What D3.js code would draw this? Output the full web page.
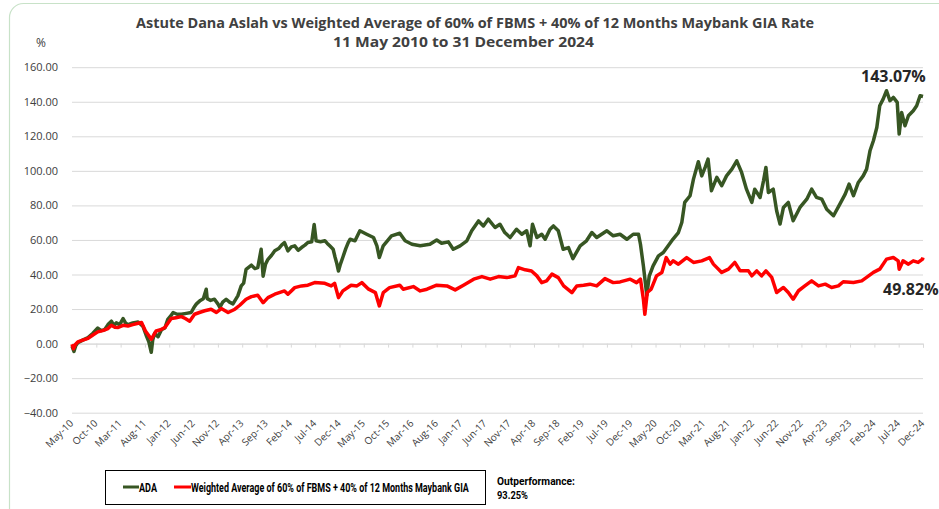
<!DOCTYPE html>
<html><head><meta charset="utf-8">
<script src="https://cdn.jsdelivr.net/npm/d3@7"></script>
<style>
html,body{margin:0;padding:0;background:#fff;}
svg{display:block;}
</style></head>
<body><svg id="chart" width="939" height="509"></svg>
<script>
// ---- data (x = months elapsed since 11 May 2010) ----
const tickLabels = ["May-10","Oct-10","Mar-11","Aug-11","Jan-12","Jun-12","Nov-12","Apr-13","Sep-13","Feb-14","Jul-14","Dec-14","May-15","Oct-15","Mar-16","Aug-16","Jan-17","Jun-17","Nov-17","Apr-18","Sep-18","Feb-19","Jul-19","Dec-19","May-20","Oct-20","Mar-21","Aug-21","Jan-22","Jun-22","Nov-22","Apr-23","Sep-23","Feb-24","Jul-24","Dec-24"];
const yTicks = [-40,-20,0,20,40,60,80,100,120,140,160];

const adaMonths = [0,0.4,0.8,1.2,2.2,3.3,4.3,5.3,6.0,6.7,7.4,8.1,8.6,9.1,9.8,10.5,11.0,11.5,12.5,13.6,14.6,15.3,15.8,16.3,16.6,17.0,17.7,18.4,19.1,19.7,20.3,20.8,21.6,22.5,23.5,24.5,25.1,25.6,26.4,27.0,27.6,27.8,28.5,29.3,30.0,30.4,31.0,31.7,32.4,33.1,34.1,34.8,35.3,35.8,36.9,37.6,38.2,38.9,39.3,39.8,40.3,41.0,41.7,42.5,43.1,43.7,44.4,45.1,45.8,46.5,47.2,47.9,48.5,49.3,49.8,50.2,51.1,52.0,52.5,53.0,53.7,54.1,54.4,54.8,55.2,55.7,56.3,56.8,57.2,58.2,59.2,60.6,62.0,62.7,63.2,64.0,65.7,67.4,68.5,69.9,71.6,73.6,75.0,76.0,77.4,78.4,79.8,81.2,82.2,83.6,84.6,85.6,87.0,88.0,89.0,90.1,91.4,92.5,93.5,94.2,94.7,95.6,96.6,97.3,98.3,99.0,100.0,101.0,102.1,103.0,104.5,105.8,106.9,107.9,110.0,111.3,112.7,114.1,115.4,116.5,116.9,117.5,118.2,118.7,119.5,120.6,121.6,122.6,123.6,124.7,125.4,126.0,127.1,127.8,128.8,129.5,130.2,130.8,131.5,132.6,133.6,134.6,135.7,136.7,137.7,138.7,139.8,140.4,141.5,142.2,142.7,143.2,144.2,144.9,145.6,146.3,147.3,148.3,149.7,151.1,152.1,153.1,154.2,155.2,156.6,157.9,159.0,159.8,160.7,161.7,162.7,163.4,164.1,164.8,165.5,166.1,166.8,167.5,168.2,168.9,169.7,170.1,170.6,171.3,172.0,173.0,173.7,174.4,175];
const adaValues = [-1.5,-4.5,-1,0.5,2,3.5,6,9,7.5,8,11,13,10.5,12,11,14.5,12,11,12,12.5,10,4.5,1,-5,2,6,4,8,9,14,16,18,17,17,17.5,18,21,23,25,26,31.5,26,25,25.7,23,21,24,25.7,24,23,27.6,33.4,35,43,45.4,43.5,44,54.6,39,46,48.8,51,53.7,55,57,58.5,53.7,56,56.6,54,55.6,57,58.5,59,69,59.5,59,59.5,58,56.6,54.6,50,47,42,46,50,55,58.5,60.4,59.5,65.3,63.3,61.4,56.6,49.8,56.6,62.4,63.9,59.5,57.5,56.6,57.5,60,58.1,58.9,54.6,56.6,59.5,65.3,71,68.1,72,67.2,69.1,64.3,61.4,66.2,63.3,65.3,56.6,69.1,61.4,63.3,60.4,66.2,68.1,65.3,54.6,55.6,49.2,56.6,59.5,64.3,61.4,65.3,62.4,63.3,60.4,63.3,63.3,57.5,45,28,39,45,50.8,52.7,56.6,60.5,64.3,70.1,81.7,85.6,95.2,105.3,97.1,102,106.8,88.5,96.2,91.4,97.1,101,105.8,99.1,89.4,81.7,89.4,84.6,94.2,102,87.5,89.4,76.9,69.2,78.8,81.7,71.1,78.8,83.6,89.4,84.6,83.6,77.8,74,80.7,86.5,92.3,85.6,93.3,97.1,101,111.6,117.4,125.1,137.7,141.5,146.4,140.6,142.5,139.6,121.3,133.8,126.1,131.9,134.8,137.7,143.5,143.07];

const benchMonths = [0,0.3,0.7,1.2,2.2,3.3,4.3,5.3,6.3,7.4,8.1,8.8,9.5,10.5,11.5,12.5,13.6,14.3,15.1,15.7,16.3,17.3,18.2,19.1,20.4,21.4,22.5,23.3,24.2,25.2,26.2,27.3,28.6,29.7,30.7,32.1,33.5,34.5,35.8,36.9,38.2,39.3,40.3,41.7,43.7,44.4,45.8,47.2,48.5,49.9,52.0,53.3,54.0,54.8,55.7,57.4,58.6,59.6,61.0,62.4,63.2,64.0,65.3,67.4,68.1,70.2,71.6,73.0,75.0,77.1,78.8,80.5,82.6,84.3,86.0,87.7,89.4,91.1,91.8,93.2,94.5,95.6,96.6,97.6,98.7,100.0,101.1,102.8,103.8,105.2,106.5,107.9,109.6,111.3,112.7,114.8,116.1,116.9,117.5,117.8,118.3,119.1,120.2,121.3,122.2,123.0,123.6,124.7,126.4,127.8,129.5,131.1,131.9,133.6,135.0,136.3,137.4,139.1,139.8,140.8,141.8,142.7,143.9,144.9,146.3,147.3,148.3,149.4,150.7,152.1,153.5,154.9,156.2,157.6,158.6,160.7,162.4,163.4,164.8,166.1,167.5,168.9,169.9,170.1,170.9,172.0,173.0,174.0,174.9,175];
const benchValues = [-0.4,-3,-0.5,1,2,3,5,6.8,7.5,8.7,10.6,9.5,9.3,10.6,10.2,11,11.8,12.2,7.3,5,2.5,7.3,8,9.3,14.5,15,15.6,14.5,13,17,18,19,19.9,18,20.3,18,19.9,22.2,25.7,27.2,28,23.7,26.6,28.6,30.5,28.6,32.4,33.4,33.8,35.3,34.9,33.4,34.9,26.6,30.5,33.8,33.4,35.3,31.5,29.5,21.8,29.5,32.4,33.8,31.5,33,30.5,31.5,33.8,33.4,31.1,33.8,37.3,38.8,37.3,38.8,38.2,39.2,44,42.7,42,39.2,35.3,36.3,40.2,38.2,33.4,29.5,33.4,33.8,34.4,33.4,37.6,35.3,35.7,37.3,35.3,37.3,25.7,17,29.6,31.5,39.2,41.2,49.8,46,47.9,46,49.8,47,47.9,49.8,46,41.2,43.1,47,42.1,42.1,39.2,42.1,39.2,42.1,38.3,29.6,32.5,29.6,25.7,30.6,33.4,36.3,33.4,34.4,32.5,33.4,35.8,35.4,36.3,38.3,41.2,43.1,48.9,49.8,47.9,43.1,47.9,46,47.9,47,48.9,49.82];

const seriesNames = ["ADA","Weighted Average of 60% of FBMS + 40% of 12 Months Maybank GIA"];
const seriesColors = ["#375623","#ff0000"];
const endLabels = ["143.07%","49.82%"];
const titleLines = ["Astute Dana Aslah vs Weighted Average of 60% of FBMS + 40% of 12 Months Maybank GIA Rate","11 May 2010 to 31 December 2024"];
const outperf = ["Outperformance:","93.25%"];

// ---- drawing ----
const svg = d3.select("#chart");
const W = 939, H = 509;
const x = d3.scaleLinear().domain([0,175]).range([72,923]);
const y = d3.scaleLinear().domain([-40,160]).range([412.7,67.2]);

svg.append("rect").attr("width",W).attr("height",H).attr("fill","#fff");
svg.append("rect").attr("x",9.5).attr("y",3.5).attr("width",1000).attr("height",600)
  .attr("rx",14).attr("fill","none").attr("stroke","#c8e2c8").attr("stroke-width",1.2);

// helper: place text so its real width equals a target (horizontal condensing via transform)
function fitText(txt, px, py, targetW, font, size, weight){
  const t = svg.append("text").attr("font-family",font).attr("font-size",size).attr("font-weight",weight||"normal").attr("fill","#000").text(txt);
  const w = t.node().getComputedTextLength();
  t.attr("transform",`translate(${px},${py}) scale(${targetW/w},1)`);
  return t;
}

// title
const tf = "'Open Sans',sans-serif";
fitText(titleLines[0],136,28,679,tf,13.5,"bold").attr("fill","#404040");
fitText(titleLines[1],333,46.5,261,tf,13.5,"bold").attr("fill","#404040");
svg.append("text").attr("x",36).attr("y",47).attr("font-family",tf).attr("font-size",12).attr("fill","#404040").text("%");

// gridlines
const yAxis = d3.axisLeft(y).tickValues(yTicks).tickFormat(d3.format(".2f")).tickSize(-(923-72)).tickPadding(14);
const gy = svg.append("g").attr("transform","translate(72,0)").call(yAxis);
gy.select(".domain").remove();
gy.selectAll(".tick line").attr("stroke","#d9d9d9").attr("stroke-width",1);
gy.selectAll(".tick text").attr("font-family",tf).attr("font-size",11).attr("fill","#404040");

// x axis at zero
const xAxis = d3.axisBottom(x).tickValues(d3.range(tickLabels.length).map(i=>i*5)).tickSize(4).tickFormat("");
const gx = svg.append("g").attr("transform",`translate(0,${y(0)})`).call(xAxis);
gx.select(".domain").attr("stroke","#d9d9d9");
gx.selectAll(".tick line").attr("stroke","#d9d9d9");

// x labels at bottom
svg.append("g").selectAll("text").data(tickLabels).join("text")
  .attr("transform",(d,i)=>`translate(${x(i*5)+2},${424}) rotate(-45)`)
  .attr("text-anchor","end").attr("font-family",tf).attr("font-size",10).attr("fill","#404040")
  .text(d=>d);

// lines
const line = d3.line().x(d=>x(d[0])).y(d=>y(d[1]));
const adaData = adaMonths.map((m,i)=>[m,adaValues[i]]);
const benchData = benchMonths.map((m,i)=>[m,benchValues[i]]);
svg.append("path").datum(adaData).attr("d",line).attr("fill","none").attr("stroke",seriesColors[0]).attr("stroke-width",3.5).attr("stroke-linejoin","round");
svg.append("path").datum(benchData).attr("d",line).attr("fill","none").attr("stroke",seriesColors[1]).attr("stroke-width",3.5).attr("stroke-linejoin","round");

// end labels
svg.append("text").attr("x",861).attr("y",82).attr("font-family",tf).attr("font-weight","bold").attr("font-size",16).attr("fill","#262626").text(endLabels[0]);
svg.append("text").attr("x",883).attr("y",295).attr("font-family",tf).attr("font-weight","bold").attr("font-size",16).attr("fill","#262626").text(endLabels[1]);

// legend
svg.append("rect").attr("x",105.5).attr("y",470.5).attr("width",380).attr("height",34).attr("fill","#fff").attr("stroke","#000").attr("stroke-width",1);
const lf = "'Roboto','Open Sans',sans-serif";
const legendItems = [{x1:123,tx:139,w:18},{x1:174,tx:191,w:278}];
legendItems.forEach((p,i)=>{
  svg.append("line").attr("x1",p.x1).attr("x2",p.tx).attr("y1",487).attr("y2",487).attr("stroke",seriesColors[i]).attr("stroke-width",3);
  fitText(seriesNames[i],p.tx,491.5,p.w,lf,12.5,"bold");
});
fitText(outperf[0],497,485,78,lf,11.5,"bold");
fitText(outperf[1],497,499,31,lf,11.5,"bold");
</script></body></html>
